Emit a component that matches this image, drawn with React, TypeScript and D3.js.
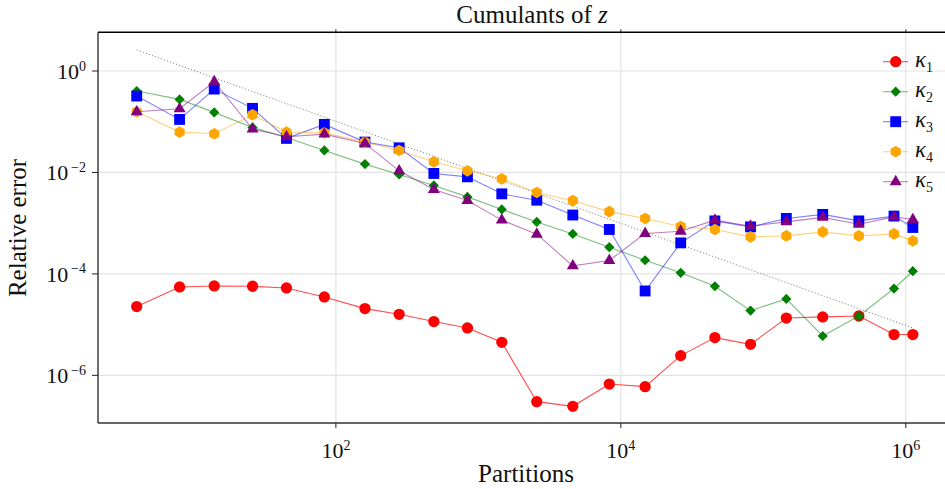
import React from "react";
import * as d3 from "d3";

// number of partitions (x) and relative error of each cumulant (y)
const partitions = [
  4, 8, 14, 26, 45, 83, 160, 278, 487, 838, 1460, 2570, 4600, 8300, 14800,
  26300, 45700, 81300, 145000, 261000, 468000, 826000, 1120000,
];
const kappa1 = [
  2.27e-5, 5.53e-5, 5.79e-5, 5.71e-5, 5.29e-5, 3.51e-5, 2.07e-5, 1.6e-5,
  1.15e-5, 8.6e-6, 4.49e-6, 3.03e-7, 2.45e-7, 6.74e-7, 5.99e-7, 2.45e-6,
  5.55e-6, 4.09e-6, 1.35e-5, 1.42e-5, 1.48e-5, 6.37e-6, 6.37e-6,
];
const kappa2 = [
  0.403, 0.276, 0.153, 0.0774, 0.0487, 0.0272, 0.01462, 0.00915, 0.00555,
  0.0033, 0.00187, 0.00106, 6.15e-4, 3.36e-4, 1.86e-4, 1.05e-4, 5.71e-5,
  1.89e-5, 3.21e-5, 5.97e-6, 1.48e-5, 5.15e-5, 1.13e-4,
];
const kappa3 = [
  0.321, 0.111, 0.441, 0.1836, 0.047, 0.0887, 0.0397, 0.0306, 0.00957,
  0.0082, 0.00379, 0.00284, 0.00145, 7.52e-4, 4.61e-5, 4.09e-4, 0.00111,
  8.46e-4, 0.00124, 0.00149, 0.00111, 0.00138, 8.23e-4,
];
const kappa4 = [
  0.157, 0.0625, 0.0579, 0.1373, 0.0625, 0.0606, 0.0397, 0.0272, 0.0162,
  0.01077, 0.00749, 0.00404, 0.00278, 0.00169, 0.00124, 8.61e-4, 7.52e-4,
  5.37e-4, 5.62e-4, 6.74e-4, 5.62e-4, 6.15e-4, 4.48e-4,
];
const kappa5 = [
  0.157, 0.18, 0.615, 0.0717, 0.0505, 0.0571, 0.0374, 0.01077, 0.00463,
  0.00281, 0.00115, 6.07e-4, 1.44e-4, 1.84e-4, 6.26e-4, 6.95e-4, 0.00115,
  8.73e-4, 0.00106, 0.0013, 9.56e-4, 0.00133, 0.00118,
];

// dotted guide line (two end points)
const refX = [4, 1.12e6];
const refY = [2.6, 8.6e-6];

const xTicks = [1e2, 1e4, 1e6];
const xTickExp = ["2", "4", "6"];
const yTicks = [1e0, 1e-2, 1e-4, 1e-6];
const yTickExp = ["0", "\u22122", "\u22124", "\u22126"];

const seriesNames = ["1", "2", "3", "4", "5"];
const seriesColors = ["#ff0000", "#008000", "#0000ff", "#ffa500", "#800080"];
const lineOpacity = [0.7, 0.5, 0.5, 0.5, 0.5];
const seriesData = [kappa1, kappa2, kappa3, kappa4, kappa5];

const W = 945;
const H = 489;
const left = 98;
const right = 960;
const top = 32.3;
const bottom = 423;
const font = "'Liberation Serif', 'Times New Roman', serif";

const hexagon = (r: number) => {
  const pts: [number, number][] = d3
    .range(6)
    .map((i) => [r * Math.sin((i * Math.PI) / 3), -r * Math.cos((i * Math.PI) / 3)]);
  return d3.line()(pts) + "Z";
};

const markerPath = (i: number) => {
  if (i === 0) return d3.symbol(d3.symbolCircle, 100)()!;
  if (i === 1) return d3.symbol(d3.symbolSquare, 52)()!;
  if (i === 2) return d3.symbol(d3.symbolSquare, 118)()!;
  if (i === 3) return hexagon(5.8);
  return d3.symbol(d3.symbolTriangle, 62)()!;
};

const Marker = ({ i, x, y }: { i: number; x: number; y: number }) => (
  <path
    d={markerPath(i)}
    transform={`translate(${x},${y})${i === 1 ? " rotate(45)" : ""}`}
    fill={seriesColors[i]}
  />
);

const App = () => {
  const x = d3.scaleLog().domain([2.14, 2.4e6]).range([left, right]);
  const y = d3.scaleLog().domain([5.8, 1.15e-7]).range([top, bottom]);
  const line = d3
    .line<number>()
    .x((_, k) => x(partitions[k]))
    .y((d) => y(d));

  return (
    <svg
      width={W}
      height={H}
      style={{ position: "absolute", left: 0, top: 0, background: "#fff" }}
      fontFamily={font}
    >
      {/* grid */}
      {xTicks.map((t) => (
        <line key={"gx" + t} x1={x(t)} x2={x(t)} y1={top} y2={bottom} stroke="#e3e3e3" strokeWidth={1.2} />
      ))}
      {yTicks.map((t) => (
        <line key={"gy" + t} x1={left} x2={W} y1={y(t)} y2={y(t)} stroke="#e3e3e3" strokeWidth={1.2} />
      ))}

      {/* reference line */}
      <path
        d={d3.line()(refX.map((v, k) => [x(v), y(refY[k])]))!}
        fill="none"
        stroke="#888"
        strokeWidth={1}
        strokeDasharray="1.2,2"
      />

      {/* series */}
      {seriesData.map((s, i) => (
        <g key={"s" + i}>
          <path d={line(s)!} fill="none" stroke={seriesColors[i]} strokeOpacity={lineOpacity[i]} strokeWidth={1.1} />
          {s.map((v, k) => (
            <Marker key={k} i={i} x={x(partitions[k])} y={y(v)} />
          ))}
        </g>
      ))}

      {/* frame */}
      <line x1={left} x2={W} y1={top} y2={top} stroke="#000" strokeWidth={1.4} />
      <line x1={left} x2={W} y1={bottom} y2={bottom} stroke="#333" strokeWidth={1.4} />
      <line x1={left} x2={left} y1={top} y2={bottom} stroke="#333" strokeWidth={1.4} />

      {/* x ticks */}
      {xTicks.map((t, k) => (
        <g key={"xt" + t}>
          <line x1={x(t)} x2={x(t)} y1={bottom} y2={bottom + 5} stroke="#222" strokeWidth={1} />
          <line x1={x(t)} x2={x(t)} y1={top - 3} y2={top} stroke="#222" strokeWidth={1} />
          <text x={x(t)} y={458} textAnchor="middle" fontSize={22} fill="#111">
            10
            <tspan dy={-8.5} fontSize={14}>
              {xTickExp[k]}
            </tspan>
          </text>
        </g>
      ))}

      {/* y ticks */}
      {yTicks.map((t, k) => (
        <g key={"yt" + t}>
          <line x1={left - 6} x2={left} y1={y(t)} y2={y(t)} stroke="#222" strokeWidth={1} />
          <text x={86} y={y(t) + 8} textAnchor="end" fontSize={22} fill="#111">
            10
            <tspan dy={-8.5} fontSize={14}>
              {k === 0 ? yTickExp[k] : "\u2009" + yTickExp[k]}
            </tspan>
          </text>
        </g>
      ))}

      {/* titles */}
      <text x={532} y={23} textAnchor="middle" fontSize={25} fill="#111">
        Cumulants of <tspan fontStyle="italic">z</tspan>
      </text>
      <text x={526} y={482} textAnchor="middle" fontSize={25} fill="#111">
        Partitions
      </text>
      <text
        transform="translate(26,228) rotate(-90)"
        textAnchor="middle"
        fontSize={25}
        fill="#111"
      >
        Relative error
      </text>

      {/* legend */}
      {seriesNames.map((n, i) => {
        const ly = 61.7 + i * 30;
        return (
          <g key={"lg" + i}>
            <line x1={883} x2={908} y1={ly} y2={ly} stroke={seriesColors[i]} strokeOpacity={lineOpacity[i]} strokeWidth={1.1} />
            <Marker i={i} x={895.7} y={ly} />
            <text x={915} y={ly + 5} fontSize={23} fill="#111">
              <tspan fontStyle="italic">κ</tspan>
              <tspan dy={5} fontSize={14}>
                {n}
              </tspan>
            </text>
          </g>
        );
      })}
    </svg>
  );
};

export default App;
